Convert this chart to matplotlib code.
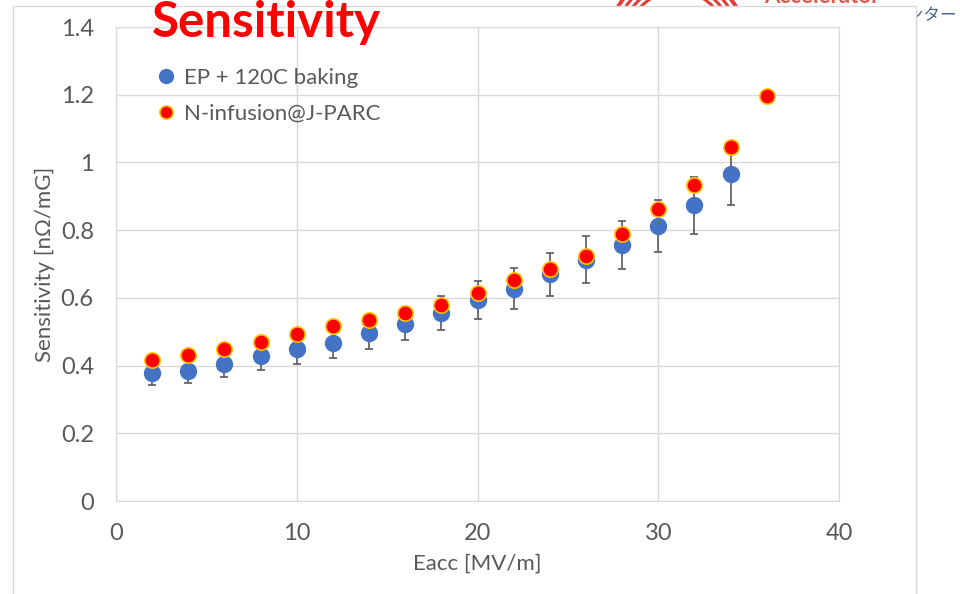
import matplotlib
matplotlib.use('Agg')
import matplotlib.pyplot as plt
from matplotlib.patches import Rectangle, Circle
from matplotlib.lines import Line2D

# ==========================================
# DATA
# ==========================================
eacc_ep = [2, 4, 6, 8, 10, 12, 14, 16, 18, 20, 22, 24, 26, 28, 30, 32, 34]
sens_ep = [0.379, 0.385, 0.405, 0.428, 0.450, 0.467, 0.496, 0.524, 0.555,
           0.594, 0.627, 0.669, 0.713, 0.755, 0.812, 0.873, 0.965]
err_ep = [0.036, 0.036, 0.038, 0.041, 0.045, 0.045, 0.046, 0.048, 0.050,
          0.056, 0.061, 0.063, 0.069, 0.071, 0.077, 0.083, 0.092]

eacc_ni = [2, 4, 6, 8, 10, 12, 14, 16, 18, 20, 22, 24, 26, 28, 30, 32, 34, 36]
sens_ni = [0.417, 0.432, 0.450, 0.471, 0.494, 0.517, 0.535, 0.556, 0.580,
           0.613, 0.654, 0.685, 0.725, 0.788, 0.861, 0.933, 1.046, 1.196]

x_ticks = [0, 10, 20, 30, 40]
y_ticks = [0, 0.2, 0.4, 0.6, 0.8, 1.0, 1.2, 1.4]
y_tick_labels = ['0', '0.2', '0.4', '0.6', '0.8', '1', '1.2', '1.4']

label_ep = 'EP + 120C baking'
label_ni = 'N-infusion@J-PARC'

# ==========================================
# STYLE
# ==========================================
FONT = ['Lato', 'DejaVu Sans']
GRAY_TXT = '#595959'
GRID = '#d9d9d9'
BLUE = '#4472c4'
RED = '#ff0000'
GOLD = '#ffc000'

plt.rcParams['font.family'] = FONT

W, H = 960, 594
fig = plt.figure(figsize=(W / 100, H / 100), dpi=100)

# background slide bits peeking out above/right of the chart frame
ring_radii = [0.70, 0.66, 0.63, 0.60, 0.57, 0.54, 0.51, 0.48]
for i, r in enumerate(ring_radii):
    c = '#e03c31' if i % 2 == 0 else 'white'
    fig.add_artist(Circle((6.77, 5.534), r, transform=fig.dpi_scale_trans,
                          facecolor=c, edgecolor='none', zorder=0.2))
fig.text(764 / W, 1 - 3 / H, 'Accelerator', color='#e05a50', fontsize=16,
         fontweight='bold', va='baseline', ha='left', zorder=0.3)
fig.text(957 / W, 1 - 16 / H, 'センター', color='#4a6494', fontsize=12,
         va='center', ha='right', zorder=0.3,
         family=['Noto Sans CJK JP', 'DejaVu Sans'])

# chart frame (white, light gray border)
fig.add_artist(Rectangle((13 / W, -0.1), (916 - 13) / W, (H - 6) / H + 0.1,
                         transform=fig.transFigure, facecolor='white',
                         edgecolor=GRID, linewidth=1, zorder=0.5))

ax = fig.add_axes([116 / W, (H - 501) / H, (839 - 116) / W, (501 - 27) / H])
ax.set_zorder(1)
ax.patch.set_alpha(0)

ax.errorbar(eacc_ep, sens_ep, yerr=err_ep, fmt='none', ecolor=GRAY_TXT,
            elinewidth=1.2, capsize=3, capthick=1.2, zorder=2)
ax.plot(eacc_ep, sens_ep, 'o', color=BLUE, markersize=11.5,
        markeredgecolor=BLUE, zorder=3)
ax.plot(eacc_ni, sens_ni, 'o', color=RED, markersize=11,
        markeredgecolor=GOLD, markeredgewidth=1.2, zorder=4)

ax.set_xlim(0, 40)
ax.set_ylim(0, 1.4)
ax.set_xticks(x_ticks)
ax.set_yticks(y_ticks)
ax.set_yticklabels(y_tick_labels)
ax.grid(True, color=GRID, linewidth=1)
ax.set_axisbelow(True)
for s in ax.spines.values():
    s.set_color(GRID)
ax.tick_params(length=0, labelsize=17, labelcolor=GRAY_TXT, pad=16)

ax.set_xlabel('Eacc [MV/m]', fontsize=16, color=GRAY_TXT, labelpad=7)
ax.set_ylabel('Sensitivity [nΩ/mG]', fontsize=16, color=GRAY_TXT, labelpad=4)

handles = [
    Line2D([], [], marker='o', linestyle='none', color=BLUE, markersize=10),
    Line2D([], [], marker='o', linestyle='none', color=RED, markersize=9.5,
           markeredgecolor=GOLD, markeredgewidth=1.2),
]
ax.legend(handles, [label_ep, label_ni], loc='upper left',
          bbox_to_anchor=(0.045, 0.933), frameon=False, fontsize=16,
          labelcolor=GRAY_TXT, handlelength=0.8, handletextpad=0.4,
          labelspacing=0.72, borderaxespad=0)

fig.text(152 / W, 1 - 37 / H, 'Sensitivity', color=RED, fontsize=35.5,
         fontweight='bold', va='baseline', ha='left', zorder=5)

fig.savefig('out.png', dpi=100)
